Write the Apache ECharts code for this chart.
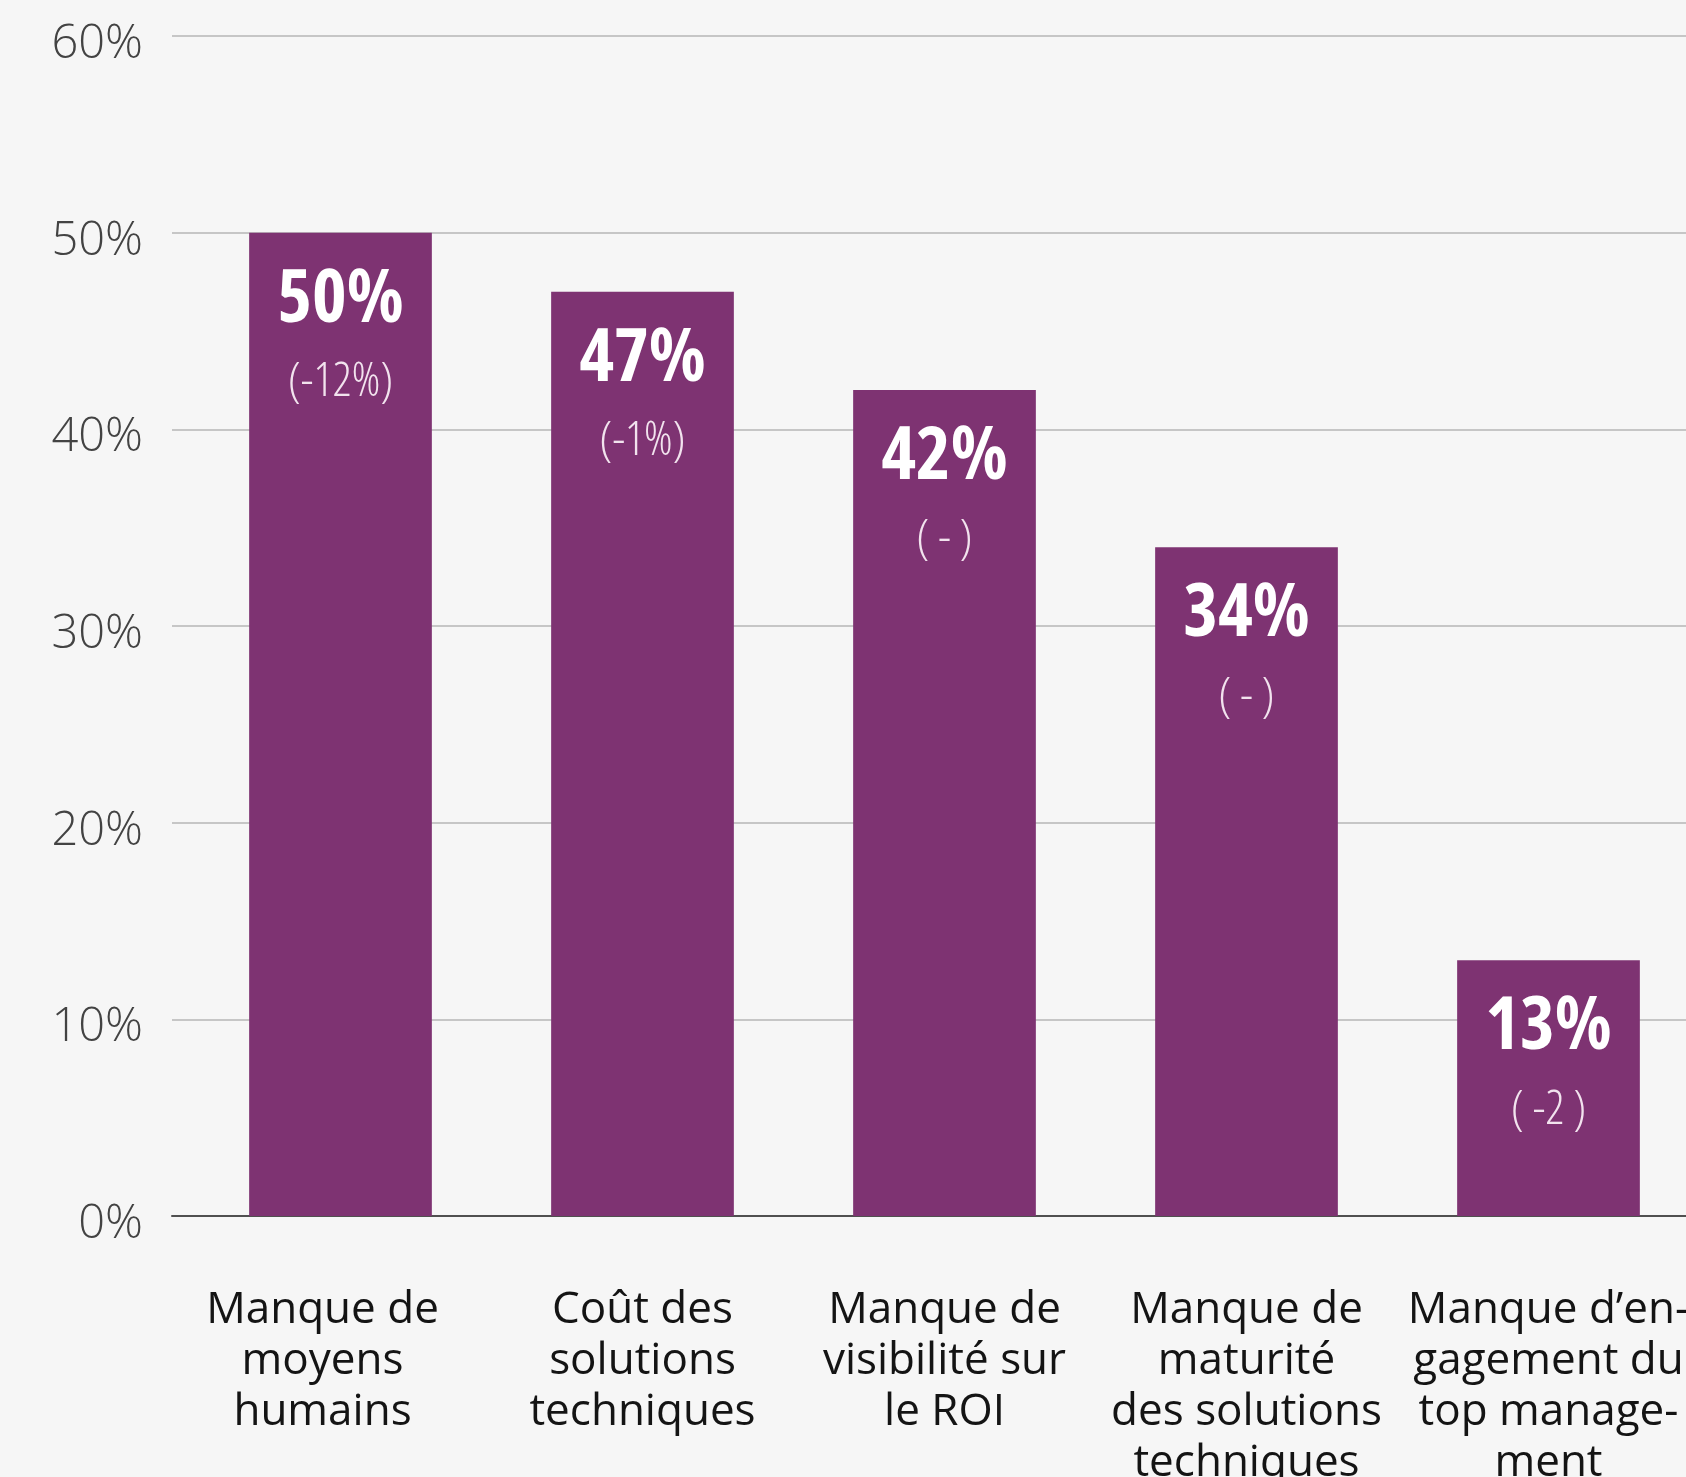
<!DOCTYPE html>
<html>
<head>
<meta charset="utf-8">
<style>
  html, body { margin: 0; padding: 0; background: #f6f6f6; }
  #chart { width: 1686px; height: 1477px; }
</style>
<script src="https://cdn.jsdelivr.net/npm/echarts@6/dist/echarts.min.js"></script>
</head>
<body>
<div id="chart"></div>
<script>
// Freins cités, en % des répondants
const categories = [
  'Manque de\nmoyens\nhumains',
  'Coût des\nsolutions\ntechniques',
  'Manque de\nvisibilité sur\nle ROI',
  'Manque de\nmaturité\ndes solutions\ntechniques',
  'Manque d’en-\ngagement du\ntop manage-\nment'
];
const values = [50, 47, 42, 34, 13];
const changes = ['(-12%)', '(-1%)', '( - )', '( - )', '( -2 )'];
const yTicks = { min: 0, max: 60, interval: 10 };

const BAR = '#7e3372';
const textFont = '"Open Sans", "Noto Sans", sans-serif';
const condFont = '"Open Sans", "DejaVu Sans", sans-serif';

const chart = echarts.init(document.getElementById('chart'));

chart.setOption({
  backgroundColor: '#f6f6f6',
  animation: false,
  grid: [
    // frame: y scale, gridlines and baseline
    { left: 172, right: 0, top: 36, bottom: 261, outerBoundsMode: 'none' },
    // bars
    { left: 189.5, width: 1510, top: 36, bottom: 261, outerBoundsMode: 'none' }
  ],
  xAxis: [
    {
      gridIndex: 0, type: 'value', min: 0, max: 1,
      axisLine: { show: true, lineStyle: { color: '#505050', width: 2 } },
      axisTick: { show: false }, axisLabel: { show: false }, splitLine: { show: false }
    },
    {
      gridIndex: 1, type: 'category',
      data: categories.map((c, i) => i === 0
        ? { value: c, textStyle: { padding: [0, 36, 0, 0] } }
        : c),
      axisLine: { show: false }, axisTick: { show: false },
      axisLabel: {
        interval: 0, margin: 69, lineHeight: 51,
        color: '#141414', fontFamily: textFont, fontSize: 44
      }
    }
  ],
  yAxis: [
    {
      gridIndex: 0, type: 'value', ...yTicks,
      axisLine: { show: false }, axisTick: { show: false },
      axisLabel: {
        formatter: '{value}%', margin: 29,
        verticalAlign: 'top', lineHeight: 17,
        color: '#434343', fontFamily: textFont, fontWeight: 300, fontSize: 47
      },
      splitLine: { lineStyle: { color: '#c6c6c6', width: 2 } }
    },
    {
      gridIndex: 1, type: 'value', ...yTicks, show: false,
      splitLine: { show: false }
    }
  ],
  series: [{
    type: 'bar',
    xAxisIndex: 1, yAxisIndex: 1,
    data: values,
    barWidth: '60.5%',
    itemStyle: { color: BAR },
    label: {
      show: true,
      position: 'insideTop',
      distance: 25,
      formatter: p => '{a|' + p.value + '%}\n{b|' + changes[p.dataIndex] + '}',
      rich: {
        a: { fontFamily: condFont, fontStyle: 'normal', fontWeight: 'condensed bold', fontSize: 74, lineHeight: 86, color: '#ffffff' },
        b: { fontFamily: condFont, fontStyle: 'normal', fontWeight: 'condensed 300', fontSize: 47, lineHeight: 78, color: '#f2e3ee' }
      }
    }
  }]
});
</script>
</body>
</html>
